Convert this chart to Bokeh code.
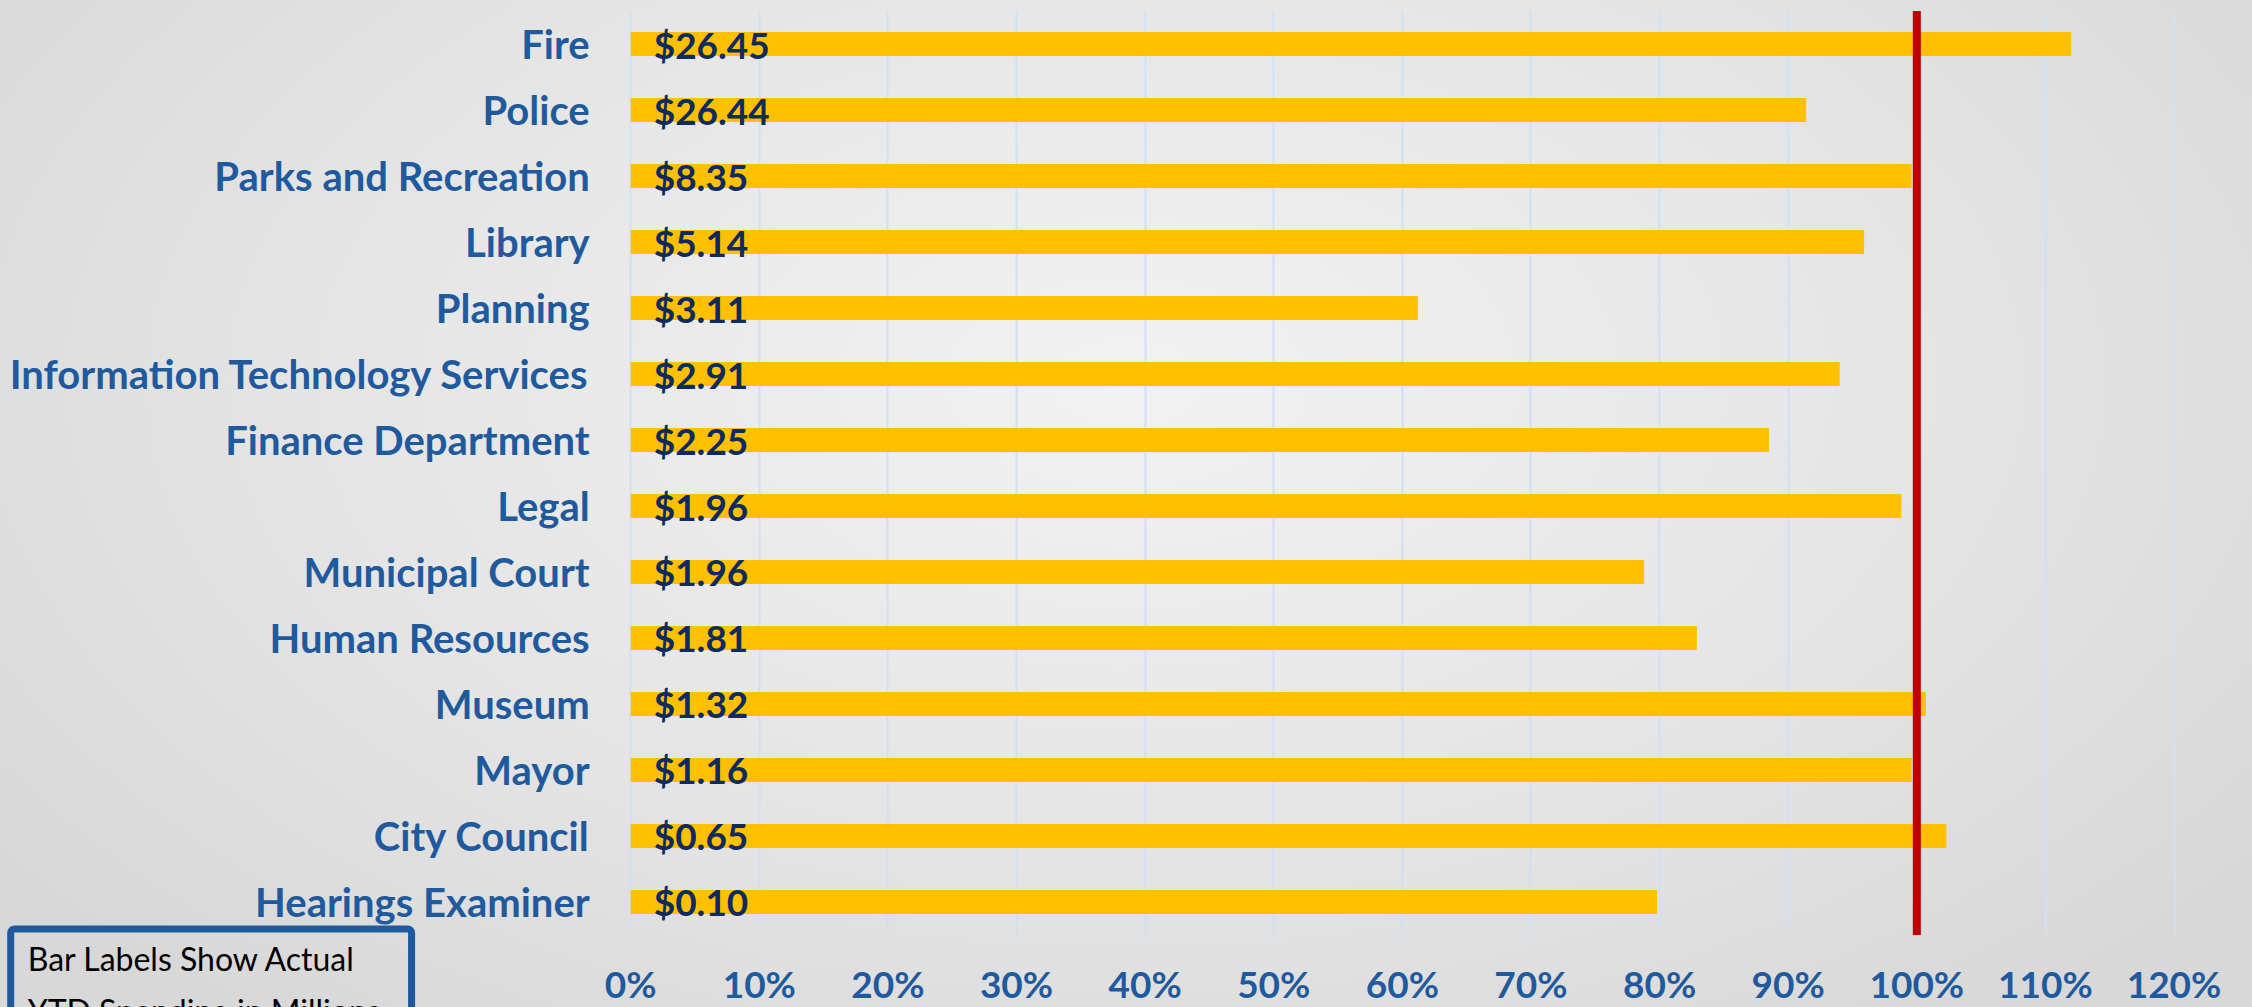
from bokeh.plotting import figure
from bokeh.models import Range1d, FactorRange, Label, Grid
from bokeh.core.properties import value
from bokeh.embed import file_html
from bokeh.resources import INLINE

# ---- data ----
departments = ["Fire", "Police", "Parks and Recreation", "Library", "Planning",
               "Information Technology Services", "Finance Department", "Legal",
               "Municipal Court", "Human Resources", "Museum", "Mayor",
               "City Council", "Hearings Examiner"]
pct_of_budget = [112.0, 91.4, 99.6, 95.9, 61.2, 94.0, 88.5, 98.8,
                 78.8, 82.9, 100.7, 99.6, 102.3, 79.8]
ytd_spending = ["$26.45", "$26.44", "$8.35", "$5.14", "$3.11", "$2.91", "$2.25",
                "$1.96", "$1.96", "$1.81", "$1.32", "$1.16", "$0.65", "$0.10"]
x_ticks = [0, 10, 20, 30, 40, 50, 60, 70, 80, 90, 100, 110, 120]
x_tick_labels = ["0%", "10%", "20%", "30%", "40%", "50%", "60%", "70%",
                 "80%", "90%", "100%", "110%", "120%"]
target = 100
note_text = "Bar Labels Show Actual\nYTD Spending in Millions"

BLUE = "#1F5A9F"
NAVY = "#0E2A5E"
GOLD = "#FFC000"
RED = "#C00000"
GRID = "#CFE2F3"

n = len(departments)
# a blank band below the bars holds the axis labels and the note box
factors = [" "] + departments[::-1]

p = figure(width=2252, height=1007, title=None,
           y_range=FactorRange(factors=factors, range_padding=0.1,
                               range_padding_units="absolute"),
           x_range=Range1d(-49.0, 126.1),
           output_backend="svg", toolbar_location=None,
           min_border_left=0, min_border_right=0,
           min_border_top=4, min_border_bottom=0)

p.styles = {"background": "radial-gradient(ellipse 62% 80% at 50% 38%, #f2f2f2 0%, #e4e4e4 60%, #d8d8d8 100%)"}
p.background_fill_alpha = 0
p.border_fill_alpha = 0
p.outline_line_color = None

# x axis (percent of budget), fixed at the bottom edge of the bar area
p.xaxis.ticker = x_ticks
p.xaxis.major_label_overrides = {t: lab for t, lab in zip(x_ticks, x_tick_labels)}
p.xaxis.fixed_location = 1
p.xaxis.axis_line_color = None
p.xaxis.major_tick_line_color = None
p.xaxis.minor_tick_line_color = None
p.xaxis.major_label_text_font = "Lato"
p.xaxis.major_label_text_font_style = "bold"
p.xaxis.major_label_text_font_size = "37px"
p.xaxis.major_label_text_color = BLUE
p.xaxis.major_label_standoff = 20

# gridlines only across the bar area
p.ygrid.visible = False
if "cross_bounds" in Grid.properties():
    p.xgrid.cross_bounds = (1, n + 1)
    p.xgrid.grid_line_color = GRID
    p.xgrid.grid_line_width = 2
else:
    p.xgrid.visible = False
    p.segment(x0=x_ticks, x1=x_ticks, y0=1, y1=n + 1, line_color=GRID, line_width=2)

# y axis (departments), fixed at 0%
p.yaxis.fixed_location = 0
p.yaxis.axis_line_color = None
p.yaxis.major_tick_line_color = None
p.yaxis.minor_tick_line_color = None
p.yaxis.major_label_text_font = "Lato"
p.yaxis.major_label_text_font_style = "bold"
p.yaxis.major_label_text_font_size = "40px"
p.yaxis.major_label_text_color = BLUE
p.yaxis.major_label_standoff = 35

p.hbar(y=departments, left=0, right=pct_of_budget, height=0.363,
       fill_color=GOLD, line_color=None)

# 100% target line
p.segment(x0=[target], x1=[target], y0=[1], y1=[n + 1], line_color=RED, line_width=8)

p.text(x=0, y=departments, text=ytd_spending, x_offset=23, text_align="left",
       text_baseline="middle", text_font=value("Lato"), text_font_style="bold",
       text_font_size="37px", text_color=NAVY)

p.add_layout(Label(x=0, y=1, x_offset=-620, y_offset=6, text=note_text,
                   text_align="left", text_baseline="top", text_font="Lato",
                   text_font_size="32px", text_color="#000000",
                   text_line_height=1.34,
                   border_line_color=BLUE, border_line_width=7,
                   padding=(17, 31, 10, 22), border_radius=4))

open("out.html", "w").write(file_html(p, INLINE))
